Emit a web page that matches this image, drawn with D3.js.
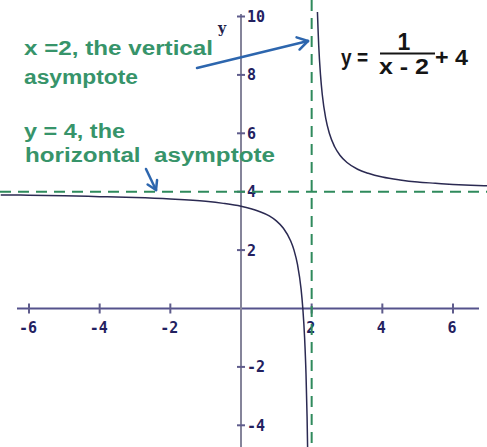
<!DOCTYPE html>
<html>
<head>
<meta charset="utf-8">
<script src="https://cdn.jsdelivr.net/npm/d3@7"></script>
<style>
  body { margin: 0; background: #ffffff; }
  svg { display: block; }
</style>
</head>
<body>
<script>
// Tick values on each axis
var xTicks = [-6, -4, -2, 2, 4, 6];
var yTicks = [-4, -2, 2, 4, 6, 8, 10];

// Points, left of the asymptote
var leftBranch = [
  [-6.8, 3.89], [-6, 3.88], [-5, 3.86], [-4, 3.83], [-3, 3.8], [-2, 3.75],
  [-1, 3.67], [-0.5, 3.6], [0, 3.5], [0.5, 3.33], [0.8, 3.17], [1, 3],
  [1.2, 2.75], [1.4, 2.33], [1.5, 2], [1.6, 1.5], [1.7, 0.67], [1.75, 0],
  [1.8, -1], [1.84, -2.25], [1.87, -3.7], [1.89, -5.1]
];
// Points, right of the asymptote
var rightBranch = [
  [2.09, 15.1], [2.12, 12.3], [2.15, 10.7], [2.2, 9], [2.25, 8], [2.3, 7.33],
  [2.4, 6.5], [2.5, 6], [2.65, 5.54], [2.8, 5.25], [3, 5], [3.3, 4.77],
  [3.6, 4.63], [4, 4.5], [4.5, 4.4], [5, 4.33], [5.5, 4.29], [6, 4.25],
  [6.5, 4.22], [7, 4.2]
];

// Asymptotes
var vAsymptote = 2;
var hAsymptote = 4;

var width = 487, height = 447;

var x = d3.scaleLinear().domain([0, 6]).range([241, 453]);
var y = d3.scaleLinear().domain([0, 10]).range([308.5, 16.5]);

var svg = d3.select("body").append("svg")
  .attr("width", width)
  .attr("height", height);

svg.append("defs").append("clipPath").attr("id", "plot")
  .append("rect")
    .attr("x", 0).attr("y", 12)
    .attr("width", width).attr("height", height - 12);

var axisColor = "#5f5c8c";
var labelColor = "#23215f";
var green = "#2f8a5c";
var textGreen = "#37946a";
var blue = "#2d66ae";

//--------------------------------------
// Axes
//--------------------------------------

svg.append("line")
  .attr("x1", 17).attr("x2", 479)
  .attr("y1", y(0)).attr("y2", y(0))
  .attr("stroke", "#55528c")
  .attr("stroke-width", 2);

svg.append("line")
  .attr("x1", x(0)).attr("x2", x(0))
  .attr("y1", 14).attr("y2", height)
  .attr("stroke", "#85849a")
  .attr("stroke-width", 2);

svg.selectAll(".xtick")
  .data(xTicks)
  .enter().append("line")
    .attr("class", "xtick")
    .attr("x1", function(d) { return x(d); })
    .attr("x2", function(d) { return x(d); })
    .attr("y1", y(0) - 5)
    .attr("y2", y(0) + 5)
    .attr("stroke", axisColor)
    .attr("stroke-width", 2);

svg.selectAll(".ytick")
  .data(yTicks)
  .enter().append("line")
    .attr("class", "ytick")
    .attr("x1", x(0) - 4)
    .attr("x2", x(0) + 4)
    .attr("y1", function(d) { return y(d); })
    .attr("y2", function(d) { return y(d); })
    .attr("stroke", axisColor)
    .attr("stroke-width", 2);

svg.selectAll(".xlabel")
  .data(xTicks)
  .enter().append("text")
    .attr("class", "xlabel")
    .attr("x", function(d) { return x(d) - 1; })
    .attr("y", y(0) + 24)
    .attr("text-anchor", "middle")
    .attr("font-family", "'DejaVu Sans Mono', monospace")
    .attr("font-weight", "bold")
    .attr("font-size", "15px")
    .attr("fill", labelColor)
    .text(function(d) { return d < 0 ? "-" + Math.abs(d) : d; });

svg.selectAll(".ylabel")
  .data(yTicks)
  .enter().append("text")
    .attr("class", "ylabel")
    .attr("x", x(0) + 6)
    .attr("y", function(d) { return y(d); })
    .attr("dy", "0.36em")
    .attr("font-family", "'DejaVu Sans Mono', monospace")
    .attr("font-weight", "bold")
    .attr("font-size", "15px")
    .attr("fill", labelColor)
    .text(function(d) { return d < 0 ? "-" + Math.abs(d) : d; });

svg.append("text")
  .attr("x", 222)
  .attr("y", 33)
  .attr("text-anchor", "middle")
  .attr("font-family", "'DejaVu Serif', serif")
  .attr("font-weight", "bold")
  .attr("font-size", "14px")
  .attr("fill", "#22224a")
  .text("y");

//--------------------------------------
// Asymptotes
//--------------------------------------

svg.append("line")
  .attr("x1", 0).attr("x2", width)
  .attr("y1", y(hAsymptote)).attr("y2", y(hAsymptote))
  .attr("stroke", green)
  .attr("stroke-width", 2)
  .attr("stroke-dasharray", "11,7");

svg.append("line")
  .attr("x1", x(vAsymptote)).attr("x2", x(vAsymptote))
  .attr("y1", 0).attr("y2", height)
  .attr("stroke", green)
  .attr("stroke-width", 2)
  .attr("stroke-dasharray", "11,7");

//--------------------------------------
// Curve
//--------------------------------------

var line = d3.line()
  .x(function(d) { return x(d[0]); })
  .y(function(d) { return y(d[1]); })
  .curve(d3.curveMonotoneX);

svg.selectAll(".branch")
  .data([leftBranch, rightBranch])
  .enter().append("path")
    .attr("class", "branch")
    .attr("d", line)
    .attr("clip-path", "url(#plot)")
    .attr("fill", "none")
    .attr("stroke", "#2b2a52")
    .attr("stroke-width", 1.5);

//--------------------------------------
// Annotations
//--------------------------------------

var notes = [
  {text: "x =2, the vertical", x: 24, y: 55, w: 189},
  {text: "asymptote", x: 24, y: 84, w: 114},
  {text: "y = 4, the", x: 24, y: 138, w: 101},
  {text: "horizontal  asymptote", x: 25, y: 162, w: 250}
];

svg.selectAll(".note")
  .data(notes)
  .enter().append("text")
    .attr("class", "note")
    .attr("x", function(d) { return d.x; })
    .attr("y", function(d) { return d.y; })
    .attr("textLength", function(d) { return d.w; })
    .attr("lengthAdjust", "spacingAndGlyphs")
    .attr("font-family", "'Liberation Sans', Arial, sans-serif")
    .attr("font-weight", "bold")
    .attr("font-size", "20px")
    .attr("fill", textGreen)
    .style("white-space", "pre")
    .text(function(d) { return d.text; });

function arrow(x1, y1, x2, y2, len) {
  var a = Math.atan2(y2 - y1, x2 - x1);
  var g = svg.append("g")
    .attr("fill", "none")
    .attr("stroke", blue)
    .attr("stroke-width", 2.5)
    .attr("stroke-linecap", "round");
  g.append("line").attr("x1", x1).attr("y1", y1).attr("x2", x2).attr("y2", y2);
  [0.55, -0.55].forEach(function(s) {
    g.append("line")
      .attr("x1", x2).attr("y1", y2)
      .attr("x2", x2 - len * Math.cos(a + s))
      .attr("y2", y2 - len * Math.sin(a + s));
  });
}

arrow(197, 68, 308, 41, 12);
arrow(146, 169, 156, 190, 10);

// Equation y = 1/(x-2) + 4
var eq = svg.append("g")
  .attr("font-family", "'Liberation Sans', Arial, sans-serif")
  .attr("font-weight", "bold")
  .attr("font-size", "22px")
  .attr("fill", "#151515");

eq.append("text").attr("x", 341).attr("y", 65)
  .attr("textLength", 27).attr("lengthAdjust", "spacingAndGlyphs")
  .text("y =");
eq.append("text").attr("x", 404).attr("y", 50).attr("text-anchor", "middle")
  .attr("font-size", "23px")
  .text("1");
eq.append("line")
  .attr("x1", 380).attr("x2", 435)
  .attr("y1", 53.5).attr("y2", 53.5)
  .attr("stroke", "#151515").attr("stroke-width", 2);
eq.append("text").attr("x", 379).attr("y", 74)
  .attr("textLength", 50).attr("lengthAdjust", "spacingAndGlyphs")
  .text("x - 2");
eq.append("text").attr("x", 435).attr("y", 65)
  .attr("textLength", 33).attr("lengthAdjust", "spacingAndGlyphs")
  .text("+ 4");
</script>
</body>
</html>
